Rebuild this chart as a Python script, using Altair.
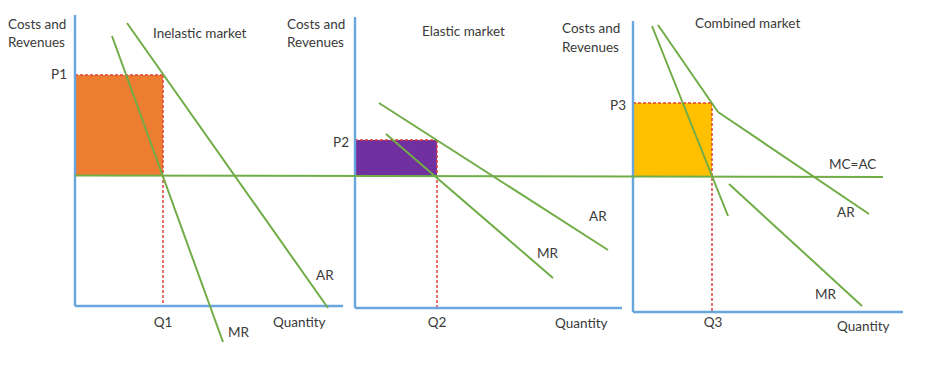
import altair as alt
import pandas as pd

# ---- diagram data (diagram units: x to the right, y downward) ----
# shaded profit areas
rect_market = ["Inelastic", "Elastic", "Combined"]
rect_x1 = [75, 355, 633]
rect_x2 = [163, 437, 712]
rect_y1 = [75, 140, 103]
rect_y2 = [176, 176, 177]
rect_colors = ["#ED7D31", "#7030A0", "#FFC000"]

# axes (blue)
axis_x1 = [75, 75, 355, 355, 633, 633]
axis_y1 = [15, 306, 17, 308, 21, 312]
axis_x2 = [75, 343, 355, 622, 633, 903]
axis_y2 = [306, 306, 308, 308, 312, 312]

# curves (green): MC=AC, AR and MR lines
curve_name = ["MC=AC", "AR1", "MR1", "AR2", "MR2", "AR3a", "AR3b", "MR3a", "MR3b"]
curve_x1 = [75, 127, 112, 379, 386, 658, 718, 652, 729]
curve_y1 = [175.5, 23, 36, 103, 134, 25, 112, 26, 184]
curve_x2 = [883, 328, 223, 608, 553, 718, 869, 728, 862]
curve_y2 = [177, 308, 342, 250, 278, 112, 214, 216, 306]

# dashed guides (red)
dash_x1 = [75, 163, 355, 437, 633, 712]
dash_y1 = [75, 75, 140, 140, 103, 103]
dash_x2 = [163, 163, 437, 437, 712, 712]
dash_y2 = [75, 306, 140, 308, 103, 312]

# labels
lab_text = ["Costs and", "Revenues", "Inelastic market", "Quantity", "AR", "MR",
            "Costs and", "Revenues", "Elastic market", "Quantity", "AR", "MR",
            "Costs and", "Revenues", "Combined market", "Quantity", "AR", "MR", "MC=AC"]
lab_x = [8, 8, 153, 273, 316, 228,
         287, 287, 422, 555, 589, 537,
         562, 562, 695, 837, 837, 815, 829]
lab_y = [25, 43, 34, 323, 276, 333,
         25, 43, 32, 324, 217, 254,
         29, 48, 24, 327, 213, 295, 165]

tick_text = ["P1", "P2", "P3"]
tick_x = [67, 349, 626]
tick_y = [75, 143, 106]

qtick_text = ["Q1", "Q2", "Q3"]
qtick_x = [163, 437, 713]
qtick_y = [323, 323, 323]

W, H = 940, 365
xs = alt.Scale(domain=[0, W], range=[0, W], nice=False, zero=False)
ys = alt.Scale(domain=[0, H], range=[0, H], nice=False, zero=False)

rects = pd.DataFrame({"m": rect_market, "x": rect_x1, "x2": rect_x2, "y": rect_y1, "y2": rect_y2})
axes = pd.DataFrame({"x": axis_x1, "y": axis_y1, "x2": axis_x2, "y2": axis_y2})
curves = pd.DataFrame({"n": curve_name, "x": curve_x1, "y": curve_y1, "x2": curve_x2, "y2": curve_y2})
dashes = pd.DataFrame({"x": dash_x1, "y": dash_y1, "x2": dash_x2, "y2": dash_y2})
labels = pd.DataFrame({"t": lab_text, "x": lab_x, "y": lab_y})
ticks = pd.DataFrame({"t": tick_text, "x": tick_x, "y": tick_y})
qticks = pd.DataFrame({"t": qtick_text, "x": qtick_x, "y": qtick_y})

X = lambda: alt.X("x:Q", scale=xs, axis=None)
Y = lambda: alt.Y("y:Q", scale=ys, axis=None)

rect_layer = alt.Chart(rects).mark_rect().encode(
    x=X(), x2="x2:Q", y=Y(), y2="y2:Q",
    color=alt.Color("m:N", scale=alt.Scale(domain=rect_market, range=rect_colors), legend=None),
)
dash_layer = alt.Chart(dashes).mark_rule(color="#E0403A", strokeWidth=1.5, strokeDash=[3, 2]).encode(
    x=X(), y=Y(), x2="x2:Q", y2="y2:Q")
axis_layer = alt.Chart(axes).mark_rule(color="#6AA6DE", strokeWidth=2.4).encode(
    x=X(), y=Y(), x2="x2:Q", y2="y2:Q")
curve_layer = alt.Chart(curves).mark_rule(color="#70AD47", strokeWidth=2).encode(
    x=X(), y=Y(), x2="x2:Q", y2="y2:Q")

font = "Lato"
fs = 13.5
tcol = "#3A3A3A"
label_layer = alt.Chart(labels).mark_text(align="left", baseline="middle", font=font, fontSize=fs, color=tcol).encode(
    x=X(), y=Y(), text="t:N")
tick_layer = alt.Chart(ticks).mark_text(align="right", baseline="middle", font=font, fontSize=fs, color=tcol).encode(
    x=X(), y=Y(), text="t:N")
qtick_layer = alt.Chart(qticks).mark_text(align="center", baseline="middle", font=font, fontSize=fs, color=tcol).encode(
    x=X(), y=Y(), text="t:N")

chart = alt.layer(
    rect_layer, dash_layer, axis_layer, curve_layer, label_layer, tick_layer, qtick_layer
).properties(
    width=W, height=H, padding=0, autosize=alt.AutoSizeParams(type="none"),
    background="white",
).configure_view(stroke=None)

chart.save("out.html", embed_options={"renderer": "svg", "actions": False})
